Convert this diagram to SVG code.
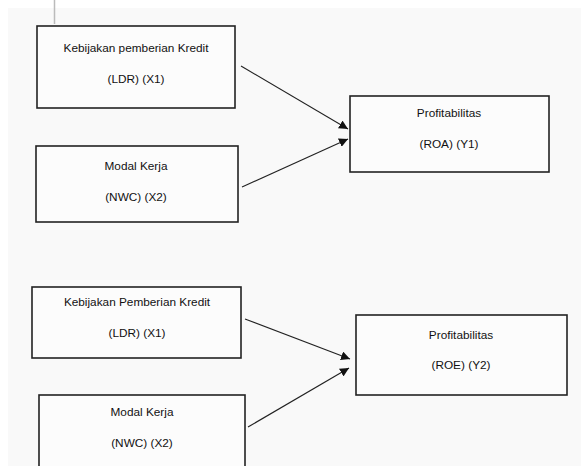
<svg xmlns="http://www.w3.org/2000/svg" width="581" height="466" viewBox="0 0 581 466">
<style>
.box{fill:#fcfcfc;stroke:#222;stroke-width:1.6}
.t{font-family:"Liberation Sans",Arial,sans-serif;font-size:11.8px;fill:#111;text-anchor:middle}
.c{stroke:#222;stroke-width:1.1;fill:none;marker-end:url(#ah)}
</style>
<defs>
<marker id="ah" viewBox="0 0 10 10" refX="10" refY="5" markerWidth="9" markerHeight="9" markerUnits="userSpaceOnUse" orient="auto">
<path d="M0,0 L10,5 L0,10 z" fill="#111"/>
</marker>
</defs>
<rect x="0" y="0" width="581" height="466" fill="#ffffff"/>
<rect x="8" y="8" width="573" height="458" fill="#f9f9f9"/>
<line x1="54.5" y1="0" x2="54.5" y2="24" stroke="#bbb" stroke-width="1.5"/>
<g id="connectors">
<line class="c" x1="241" y1="66" x2="348" y2="129"/>
<line class="c" x1="242" y1="187" x2="348" y2="139"/>
<line class="c" x1="245" y1="319" x2="350" y2="359"/>
<line class="c" x1="248" y1="427" x2="349" y2="368"/>
</g>
<g id="n1">
<rect class="box" x="37" y="26" width="198" height="82"/>
<text class="t" x="136" y="52">Kebijakan pemberian Kredit</text>
<text class="t" x="136" y="83">(LDR) (X1)</text>
</g>
<g id="n2">
<rect class="box" x="36" y="146" width="202" height="76"/>
<text class="t" x="136" y="170">Modal Kerja</text>
<text class="t" x="136" y="201">(NWC) (X2)</text>
</g>
<g id="n3">
<rect class="box" x="350" y="96" width="199" height="76"/>
<text class="t" x="449" y="117">Profitabilitas</text>
<text class="t" x="449" y="148">(ROA) (Y1)</text>
</g>
<g id="n4">
<rect class="box" x="32" y="287" width="209" height="71"/>
<text class="t" x="137" y="306">Kebijakan Pemberian Kredit</text>
<text class="t" x="137" y="337">(LDR) (X1)</text>
</g>
<g id="n5">
<rect class="box" x="39" y="395" width="206" height="80"/>
<text class="t" x="142" y="416">Modal Kerja</text>
<text class="t" x="142" y="447">(NWC) (X2)</text>
</g>
<g id="n6">
<rect class="box" x="356" y="315" width="211" height="80"/>
<text class="t" x="461" y="339">Profitabilitas</text>
<text class="t" x="461" y="369">(ROE) (Y2)</text>
</g>
</svg>
